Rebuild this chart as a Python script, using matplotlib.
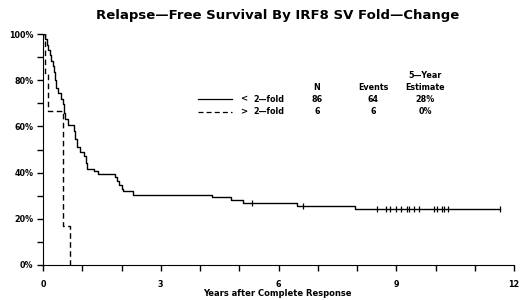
import numpy as np
import matplotlib
matplotlib.use('Agg')
import matplotlib.pyplot as plt
from matplotlib.lines import Line2D

plt.rcParams['font.family'] = ['DejaVu Sans']

# < 2-fold group (N=86): step times (years) and survival (%)
low_times = [0, 0.05, 0.09, 0.13, 0.17, 0.21, 0.25, 0.28, 0.31, 0.34, 0.38, 0.45,
             0.50, 0.54, 0.57, 0.64, 0.78, 0.82, 0.86, 0.95, 1.05, 1.09, 1.13, 1.30,
             1.40, 1.83, 1.88, 1.93, 2.00, 2.05, 2.30, 4.30, 4.80, 5.10, 6.46, 7.95, 11.65]
low_surv = [100, 97.7, 95.3, 93.0, 90.7, 88.4, 86.0, 83.7, 80.0, 76.7, 74.4, 72.0,
            69.8, 66.0, 63.0, 60.5, 58.0, 54.7, 51.0, 49.0, 47.0, 44.0, 41.5, 40.5,
            39.5, 38.3, 36.5, 34.5, 33.0, 32.0, 30.5, 29.3, 28.2, 27.0, 25.6, 24.2, 24.2]
low_censor = [5.32, 6.63, 8.50, 8.74, 8.84, 8.99, 9.12, 9.27, 9.33, 9.44, 9.57,
              9.95, 10.05, 10.16, 10.22, 10.32, 11.65]

# > 2-fold group (N=6)
high_times = [0, 0.04, 0.12, 0.51, 0.68]
high_surv = [100, 83.3, 66.7, 16.7, 0]

legend_rows = [['< 2\u2014fold', '86', '64', '28%'],
               ['> 2\u2014fold', '6', '6', '0%']]

x_ticks = [0, 3, 6, 9, 12]
y_ticks = [0, 20, 40, 60, 80, 100]

fig = plt.figure(figsize=(5.2, 3.0), dpi=100)
ax = fig.add_axes([43/520, 1-265/300, 471/520, 231/300])

ax.step(low_times, low_surv, where='post', color='black', lw=1.0)
ax.step(high_times, high_surv, where='post', color='black', lw=1.0, linestyle=(0, (4, 2.5)))

idx = np.searchsorted(low_times, low_censor, side='right') - 1
cens_y = np.array(low_surv)[idx]
ax.plot(low_censor, cens_y, linestyle='none', marker='|', color='black', ms=5, mew=0.9)

ax.set_xlim(0, 12)
ax.set_ylim(0, 100)
ax.spines['top'].set_visible(False)
ax.spines['right'].set_visible(False)
ax.set_xticks(np.arange(0, 13, 1))
ax.set_xticklabels([str(t) if t in x_ticks else '' for t in range(13)])
ax.set_yticks(np.arange(0, 101, 10))
ax.set_yticklabels([f'{t}%' if t in y_ticks else '' for t in range(0, 101, 10)])
ax.tick_params(direction='out', length=4, width=1, labelsize=5.8)
for lab in ax.get_xticklabels() + ax.get_yticklabels():
    lab.set_fontweight('bold')
ax.tick_params(axis='y', pad=3)
ax.tick_params(axis='x', pad=7)

def px(x, y):
    return x/520, 1-y/300

fig.text(*px(277, 294), 'Years after Complete Response', ha='center', va='center',
         fontsize=6, fontweight='bold')
fig.text(*px(278, 16), 'Relapse\u2014Free Survival By IRF8 SV Fold\u2014Change',
         ha='center', va='center', fontsize=9.5, fontweight='bold')

# legend table
hdr = dict(ha='center', va='center', fontsize=5.8, fontweight='bold')
fig.text(*px(425, 75), '5\u2014Year', **hdr)
fig.text(*px(317, 87), 'N', **hdr)
fig.text(*px(373, 87), 'Events', **hdr)
fig.text(*px(425, 87), 'Estimate', **hdr)
styles = ['-', (0, (4, 2.5))]
for i, row in enumerate(legend_rows):
    yy = 99 + i*13
    x0, y0 = px(198, yy)
    x1, _ = px(232, yy)
    fig.add_artist(Line2D([x0, x1], [y0, y0], color='black', lw=0.9, linestyle=styles[i]))
    fig.text(*px(240, yy), row[0][0], ha='left', va='center', fontsize=6.2, fontweight='bold')
    fig.text(*px(253, yy), row[0][2:], ha='left', va='center', fontsize=5.8, fontweight='bold')
    fig.text(*px(317, yy), row[1], **hdr)
    fig.text(*px(373, yy), row[2], **hdr)
    fig.text(*px(425, yy), row[3], **hdr)

fig.savefig('out.png', dpi=100)
